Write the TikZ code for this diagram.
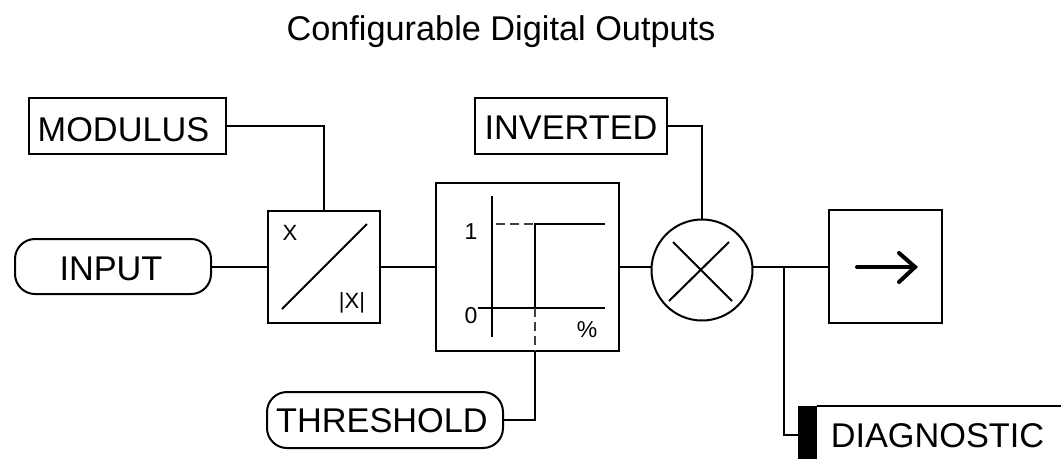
\documentclass[tikz,border=0pt]{standalone}
\usepackage{fontspec}
\setmainfont{Liberation Sans}
\tikzset{
  every node/.style={inner sep=0pt,outer sep=0pt},
  wire/.style={draw=black,line width=2pt},
  boxed/.style={draw=black,line width=2pt,rectangle},
  pill/.style={draw=black,line width=2pt,rectangle,rounded corners=20pt},
  big/.style={font=\fontsize{34.3}{36}\selectfont},
  mid/.style={font=\fontsize{23}{25}\selectfont},
  small/.style={font=\fontsize{22}{24}\selectfont},
  caps/.style={text depth=0pt,text height=#1},
  thin dash/.style={draw=black!75,line width=1.2pt,dash pattern=on 9pt off 5pt},
}
\begin{document}
\begin{tikzpicture}[x=1pt,y=-1pt]
\useasboundingbox (0,0) rectangle (1061,459);
\node[big,anchor=base] (title) at (501,40) {Configurable Digital Outputs};
% boxes
\node[boxed,big,caps=29.6pt,minimum width=197pt,minimum height=56pt] (modulus) at (127.5,126.3) {\kern-8pt MODULUS};
\node[pill,big,caps=28.6pt,minimum width=196pt,minimum height=55pt] (input) at (113,266.5) {\kern-4pt INPUT};
\node[boxed,minimum width=112pt,minimum height=112pt] (abs) at (324,266.5) {};
\node[boxed,minimum width=183pt,minimum height=168pt] (thr) at (527.5,266.5) {};
\node[pill,big,caps=25.6pt,minimum width=236pt,minimum height=56pt] (threshold) at (385,420) {\kern-6pt THRESHOLD};
\node[boxed,big,caps=26.6pt,minimum width=192pt,minimum height=56pt] (inverted) at (571,126.3) {INVERTED};
\node[circle,draw=black,line width=2pt,minimum size=101pt] (mult) at (702,270) {};
\node[boxed,minimum width=113pt,minimum height=113pt] (out) at (885.5,266.5) {};
\node[fill=black,minimum width=19pt,minimum height=53pt] (bar) at (807.5,432.5) {};
\node[big,caps=24.6pt] (diag) at (937.5,435.5) {DIAGNOSTIC};
\coordinate (diagend) at (1061,406);
% connectors
\draw[wire] (modulus.east) -- (abs.north |- modulus.east) -- (abs.north);
\draw[wire] (input.east) -- (abs.west);
\draw[wire] (abs.east) -- (thr.west);
\draw[wire] (thr.east) -- (thr.east -| mult.west);
\draw[wire] (inverted.east) -- (mult.north |- inverted.east) -- (mult.north);
\coordinate (junction) at (784,266.5);
\draw[wire] (752,266.5) -- (junction) -- (out.west);
\draw[wire] (junction) -- (784,435) -- (bar.west |- 784,435);
\draw[wire] (threshold.east) -- (535,420) -- (535,351);
\draw[wire] (bar.north east) -- (diagend);
% modulus symbol
\draw[wire] (282,309) -- (367,224);
\node[small] (xa) at (290,233) {X};
\node[small] (xb) at (352,303) {|X|};
% threshold symbol
\draw[wire] (492,196) -- (492,337);
\draw[wire] (478,308) -- (605,308);
\draw[wire] (605,224) -- (535,224) -- (535,308);
\draw[thin dash] (496,224) -- (535,224);
\draw[thin dash] (535,308) -- (535,351);
\node[mid] (one) at (471,232) {1};
\node[mid] (zero) at (471,316) {0};
\node[mid] (pct) at (587,330) {\%};
% multiplier cross
\draw[wire] (673,242) -- (732,301);
\draw[wire] (669,301) -- (729,242);
% output arrow
\draw[line width=4pt,line cap=round,line join=miter] (857,267) -- (915,267);
\draw[line width=4pt,line cap=round,line join=miter] (899,253) -- (915,267) -- (899,282);
\end{tikzpicture}
\end{document}
